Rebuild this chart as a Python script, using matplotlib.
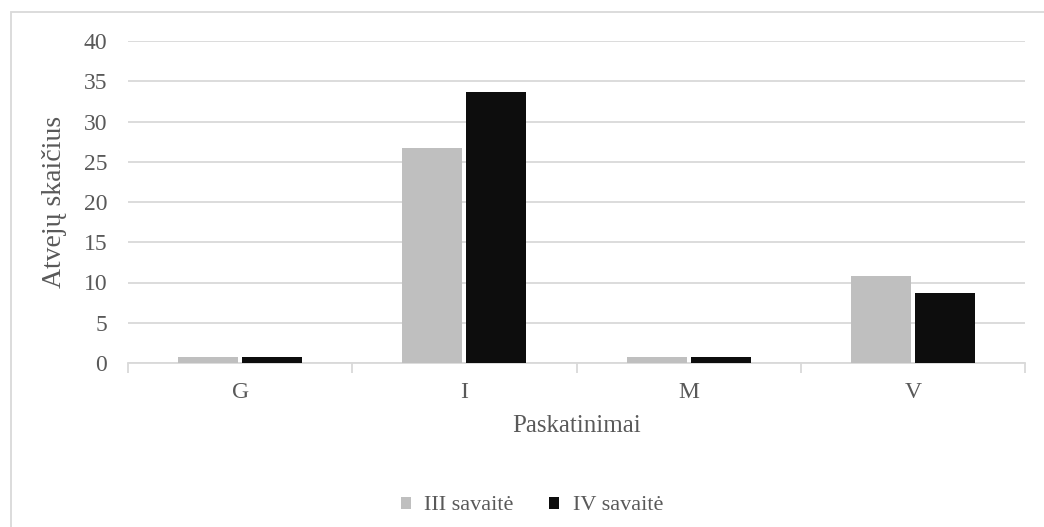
import numpy as np
import matplotlib.pyplot as plt
from matplotlib.patches import Rectangle

# Data
categories = ["G", "I", "M", "V"]
week3 = [0.8, 26.7, 0.8, 10.8]
week4 = [0.8, 33.7, 0.8, 8.7]
series_names = ["III savaitė", "IV savaitė"]

plt.rcParams['font.family'] = ['Liberation Serif', 'DejaVu Serif']
txt = "#595959"
grid = "#d9d9d9"

fig = plt.figure(figsize=(10.44, 5.27), dpi=100)
ax = fig.add_axes([128/1044, (527-363)/527, (1025-128)/1044, (363-41)/527])

x = np.arange(len(categories))
w = 0.268
gap = 0.009
ax.bar(x - w/2 - gap, week3, w, color="#bfbfbf", label=series_names[0], zorder=3)
ax.bar(x + w/2 + gap, week4, w, color="#0d0d0d", label=series_names[1], zorder=3)

ax.set_xlim(-0.5, len(categories) - 0.5)
ax.set_ylim(0, 40)
ax.set_yticks(range(0, 41, 5))
ax.yaxis.grid(True, color=grid, linewidth=1.3, zorder=0)
ax.set_axisbelow(True)
for s in ["top", "right", "left"]:
    ax.spines[s].set_visible(False)
ax.spines["bottom"].set_color(grid)
ax.spines["bottom"].set_linewidth(1.3)

ax.set_xticks(x)
ax.set_xticklabels(categories)
ax.set_xticks(np.arange(-0.5, len(categories)), minor=True)
ax.tick_params(axis="x", which="major", length=0, pad=14, labelsize=17, labelcolor=txt)
ax.tick_params(axis="x", which="minor", length=7, width=1.3, color=grid)
ax.tick_params(axis="y", length=0, pad=15, labelsize=17, labelcolor=txt)

ax.set_xlabel("Paskatinimai", fontsize=18, color=txt, labelpad=8)
ax.set_ylabel("Atvejų skaičius", fontsize=20, color=txt, labelpad=12)

ax.legend(loc="center", bbox_to_anchor=(532/1044, 1 - 506/527),
          bbox_transform=fig.transFigure, ncol=2, frameon=False,
          fontsize=16, labelcolor=txt, handlelength=0.45, handleheight=0.45,
          handletextpad=0.6, columnspacing=1.6)

# light frame of the chart area
fig.patches.append(Rectangle((11/1044, -0.1), 1.2, 1 - 12/527 + 0.1,
                             transform=fig.transFigure, fill=False,
                             edgecolor=grid, linewidth=1.3))

fig.savefig("out.png", dpi=100)
